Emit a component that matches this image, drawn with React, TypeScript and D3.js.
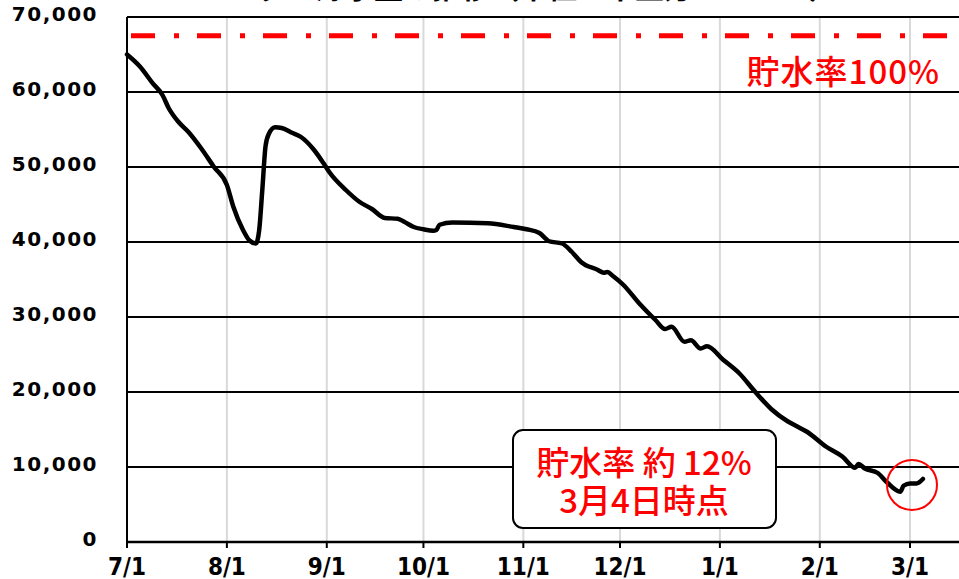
import React, { useRef, useEffect } from 'react';
import * as d3 from 'd3';

// 日付と貯水量（読み取り値）
const dates: string[] = [
  '2022-07-01', '2022-07-05', '2022-07-09', '2022-07-12', '2022-07-14', '2022-07-17',
  '2022-07-20', '2022-07-24', '2022-07-28', '2022-08-01', '2022-08-03', '2022-08-06',
  '2022-08-08', '2022-08-10', '2022-08-11', '2022-08-12', '2022-08-13', '2022-08-14',
  '2022-08-16', '2022-08-18', '2022-08-21', '2022-08-24', '2022-08-28', '2022-08-31',
  '2022-09-02', '2022-09-07', '2022-09-11', '2022-09-15', '2022-09-19', '2022-09-23',
  '2022-09-25', '2022-09-28', '2022-10-01', '2022-10-04', '2022-10-05', '2022-10-06',
  '2022-10-10', '2022-10-21', '2022-10-29', '2022-11-02', '2022-11-06', '2022-11-09',
  '2022-11-13', '2022-11-16', '2022-11-19', '2022-11-24', '2022-11-26', '2022-11-27',
  '2022-11-29', '2022-12-02', '2022-12-07', '2022-12-12', '2022-12-15', '2022-12-17',
  '2022-12-21', '2022-12-23', '2022-12-26', '2022-12-28', '2023-01-02', '2023-01-07',
  '2023-01-12', '2023-01-17', '2023-01-22', '2023-01-25', '2023-01-28', '2023-02-03',
  '2023-02-08', '2023-02-12', '2023-02-13', '2023-02-15', '2023-02-19', '2023-02-22',
  '2023-02-26', '2023-02-27', '2023-03-01', '2023-03-03', '2023-03-05',
];
const volumes: number[] = [
  65000, 63400, 61150, 59600, 57800, 56000,
  54700, 52500, 50000, 47600, 44700, 41600,
  40200, 39800, 41500, 47000, 52800, 54400,
  55300, 55200, 54600, 54000, 52300, 50500,
  49200, 46900, 45400, 44400, 43200, 43100,
  42700, 42000, 41700, 41500, 41600, 42300,
  42600, 42500, 42000, 41700, 41200, 40100,
  39800, 38700, 37300, 36300, 35900, 36000,
  35400, 34300, 31800, 29600, 28400, 28700,
  26700, 26900, 25800, 26100, 24300, 22500,
  20000, 17700, 16100, 15400, 14700, 12700,
  11400, 9900, 10400, 9800, 9200, 7900,
  6700, 7500, 7800, 7800, 8400,
];

const yTicks: number[] = [0, 10000, 20000, 30000, 40000, 50000, 60000, 70000];
const xTickDates: string[] = [
  '2022-07-01', '2022-08-01', '2022-09-01', '2022-10-01', '2022-11-01',
  '2022-12-01', '2023-01-01', '2023-02-01', '2023-03-01',
];
const fullLevel = 67500; // 貯水率100%
const titleText = 'ダム貯水量の推移（単位：千立方メートル）';
const fullLabel = '貯水率100%';
const noteLines: string[] = ['貯水率 約 12%', '3月4日時点'];
const circleAt = { date: '2023-03-01', value: 7600 };

const W = 959;
const H = 579;
const LEFT = 127;
const TOP = 17;
const BOTTOM = 542;

const App: React.FC = () => {
  const svgRef = useRef<SVGSVGElement>(null);

  useEffect(() => {
    if (!svgRef.current) return;
    const parse = d3.timeParse('%Y-%m-%d');
    const data = dates.map((d, i) => ({ time: parse(d) as Date, value: volumes[i] }));

    d3.select(svgRef.current).selectAll('*').remove();
    const svg = d3.select(svgRef.current).attr('width', W).attr('height', H);

    svg.append('rect').attr('width', W).attr('height', H).attr('fill', '#fff');

    const x = d3.scaleTime()
      .domain([parse('2022-07-01') as Date, parse('2023-03-01') as Date])
      .range([LEFT, 910]);
    const y = d3.scaleLinear().domain([0, 70000]).range([BOTTOM, TOP]);

    // タイトル（上端で切れている）
    svg.append('text')
      .attr('x', 548)
      .attr('y', -1)
      .attr('text-anchor', 'middle')
      .attr('font-family', "'Noto Sans CJK JP', sans-serif")
      .attr('font-weight', 700)
      .attr('font-size', 29)
      .attr('fill', '#000')
      .text(titleText);

    // 縦グリッド（薄いグレー）
    svg.append('g')
      .selectAll('line')
      .data(xTickDates.slice(1))
      .join('line')
      .attr('x1', d => x(parse(d) as Date))
      .attr('x2', d => x(parse(d) as Date))
      .attr('y1', TOP)
      .attr('y2', BOTTOM)
      .attr('stroke', '#d9d9d9')
      .attr('stroke-width', 2);

    // 横グリッド
    svg.append('g')
      .selectAll('line')
      .data(yTicks.filter(t => t > 0))
      .join('line')
      .attr('x1', LEFT)
      .attr('x2', W)
      .attr('y1', d => y(d))
      .attr('y2', d => y(d))
      .attr('stroke', '#000')
      .attr('stroke-width', 2);

    // 軸
    svg.append('line')
      .attr('x1', LEFT).attr('x2', LEFT)
      .attr('y1', TOP).attr('y2', BOTTOM + 5)
      .attr('stroke', '#000').attr('stroke-width', 2);
    svg.append('line')
      .attr('x1', LEFT - 1).attr('x2', W)
      .attr('y1', BOTTOM).attr('y2', BOTTOM)
      .attr('stroke', '#000').attr('stroke-width', 2.5);

    svg.append('g')
      .selectAll('line')
      .data(xTickDates)
      .join('line')
      .attr('x1', d => x(parse(d) as Date))
      .attr('x2', d => x(parse(d) as Date))
      .attr('y1', BOTTOM)
      .attr('y2', BOTTOM + 6)
      .attr('stroke', '#000')
      .attr('stroke-width', 2);

    // Y軸ラベル
    svg.append('g')
      .selectAll('text')
      .data(yTicks)
      .join('text')
      .attr('x', 98)
      .attr('y', d => y(d) - 3)
      .attr('dy', '0.36em')
      .attr('text-anchor', 'end')
      .attr('font-family', "'DejaVu Sans', sans-serif")
      .attr('font-weight', 700)
      .attr('font-size', 20)
      .attr('letter-spacing', 1.5)
      .attr('fill', '#000')
      .text(d => d3.format(',')(d));

    // X軸ラベル
    svg.append('g')
      .selectAll('text')
      .data(xTickDates)
      .join('text')
      .attr('x', d => x(parse(d) as Date))
      .attr('y', 575)
      .attr('text-anchor', 'middle')
      .attr('font-family', "'DejaVu Sans Condensed', 'DejaVu Sans', sans-serif")
      .attr('font-stretch', 'condensed')
      .attr('font-weight', 700)
      .attr('font-size', 24)
      .attr('fill', '#000')
      .text(d => d3.timeFormat('%-m/%-d')(parse(d) as Date));

    // 上枠
    svg.append('line')
      .attr('x1', LEFT).attr('x2', W)
      .attr('y1', TOP).attr('y2', TOP)
      .attr('stroke', '#000').attr('stroke-width', 2);

    // 貯水率100%ライン
    svg.append('line')
      .attr('x1', LEFT + 4).attr('x2', W)
      .attr('y1', y(fullLevel)).attr('y2', y(fullLevel))
      .attr('stroke', '#ff0000')
      .attr('stroke-width', 5)
      .attr('stroke-dasharray', '24,19,5,18');

    svg.append('text')
      .attr('x', 940)
      .attr('y', 84)
      .attr('text-anchor', 'end')
      .attr('font-family', "'Noto Sans CJK JP', sans-serif")
      .attr('font-weight', 500)
      .attr('font-size', 33)
      .attr('letter-spacing', 1)
      .attr('fill', '#ff0000')
      .text(fullLabel);

    // 貯水量ライン
    const line = d3.line<{ time: Date; value: number }>()
      .x(d => x(d.time))
      .y(d => y(d.value))
      .curve(d3.curveMonotoneX);

    svg.append('path')
      .datum(data)
      .attr('fill', 'none')
      .attr('stroke', '#000')
      .attr('stroke-width', 4.5)
      .attr('stroke-linejoin', 'round')
      .attr('stroke-linecap', 'round')
      .attr('d', line);

    // 注記ボックス
    svg.append('rect')
      .attr('x', 513)
      .attr('y', 430)
      .attr('width', 263)
      .attr('height', 98)
      .attr('rx', 10)
      .attr('fill', '#fff')
      .attr('stroke', '#000')
      .attr('stroke-width', 2);

    svg.append('g')
      .selectAll('text')
      .data(noteLines)
      .join('text')
      .attr('x', 644)
      .attr('y', (_, i) => 475 + i * 38)
      .attr('text-anchor', 'middle')
      .attr('font-family', "'Noto Sans CJK JP', sans-serif")
      .attr('font-weight', 500)
      .attr('font-size', 33)
      .attr('fill', '#ff0000')
      .text(d => d);

    // 赤い丸
    svg.append('circle')
      .attr('cx', x(parse(circleAt.date) as Date) + 2)
      .attr('cy', y(circleAt.value))
      .attr('r', 25)
      .attr('fill', 'none')
      .attr('stroke', '#ff0000')
      .attr('stroke-width', 2);
  }, []);

  return (
    <svg ref={svgRef} style={{ position: 'absolute', left: 0, top: 0 }}></svg>
  );
};

export default App;
